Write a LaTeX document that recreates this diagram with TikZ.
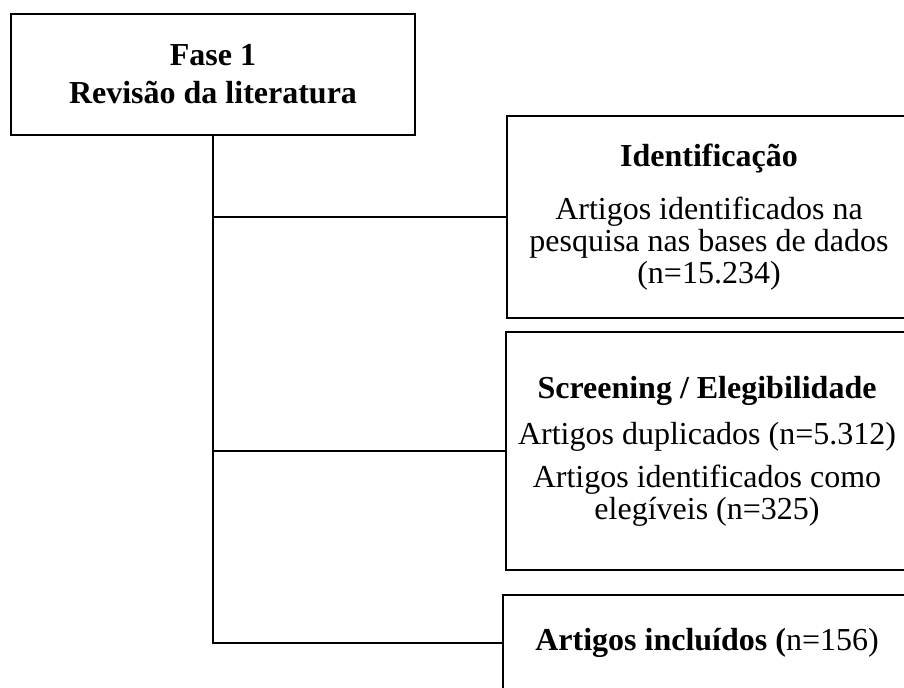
\documentclass[tikz,border=0pt]{standalone}
\usepackage{fontspec}
\setmainfont{Liberation Serif}
\begin{document}
\begin{tikzpicture}[x=0.5pt,y=-0.5pt,
  box/.style={draw, line width=1.4pt, rectangle, align=center, inner sep=0pt,
    font=\fontsize{16}{16}\selectfont},
  link/.style={line width=1.4pt}]
\useasboundingbox (0,0) rectangle (904,688);
\clip (0,0) rectangle (904,688);
\node[box, minimum width=202pt, minimum height=60.5pt] (b1) at (213,74.5)
  {\textbf{Fase 1}\\[3pt]\textbf{Revisão da literatura}};
\node[box, minimum width=202pt, minimum height=101pt] (b2) at (709,217)
  {\textbf{Identificação}\\[10.5pt]Artigos identificados na\\pesquisa nas bases de dados\\(n=15.234)};
\node[box, minimum width=201pt, minimum height=119pt] (b3) at (707,451)
  {\textbf{Screening / Elegibilidade}\\[7pt]Artigos duplicados (n=5.312)\\[5.5pt]Artigos identificados como\\elegíveis (n=325)};
\node[box, minimum width=204pt, minimum height=48pt] (b4) at (707,643)
  {\textbf{Artigos incluídos (}n=156)};
\draw[link] (b1.south) |- (b4.west);
\draw[link] (b1.south |- b2.west) -- (b2.west);
\draw[link] (b1.south |- b3.west) -- (b3.west);
\end{tikzpicture}
\end{document}
